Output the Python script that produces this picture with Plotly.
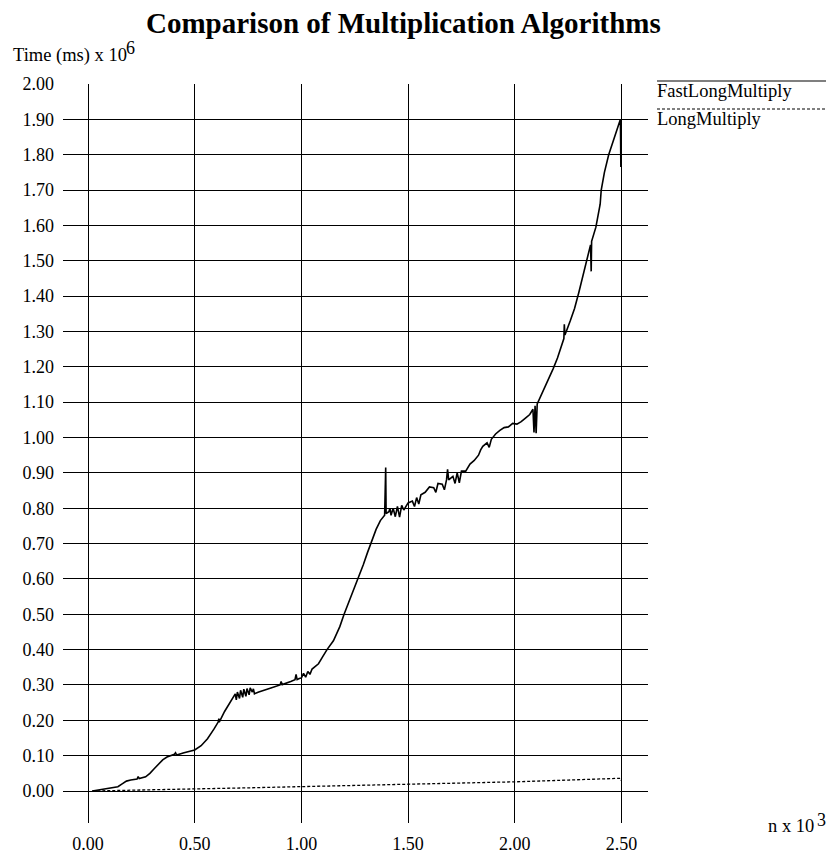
import plotly.graph_objects as go

# n x 10^3 on x, time (ms) x 10^6 on y
fast_x = [0.02, 0.05, 0.08, 0.11, 0.14, 0.16, 0.18, 0.20, 0.23, 0.235, 0.24, 0.27, 0.29,
          0.31, 0.33, 0.35, 0.37, 0.39, 0.405, 0.41, 0.415, 0.45, 0.50, 0.53, 0.56, 0.59,
          0.61, 0.613, 0.615, 0.64, 0.665, 0.68, 0.69, 0.695, 0.70, 0.71, 0.715, 0.725,
          0.73, 0.74, 0.745, 0.755, 0.76, 0.77, 0.775, 0.78, 0.80, 0.85, 0.90, 0.905,
          0.91, 0.95, 0.97, 0.975, 0.98, 0.99, 1.00, 1.01, 1.02, 1.03, 1.04, 1.05, 1.08,
          1.10, 1.12, 1.15, 1.18, 1.20, 1.23, 1.26, 1.29, 1.31, 1.33, 1.35, 1.37, 1.39,
          1.395, 1.397, 1.41, 1.415, 1.42, 1.43, 1.44, 1.45, 1.46, 1.47, 1.48, 1.50,
          1.52, 1.53, 1.54, 1.55, 1.56, 1.58, 1.60, 1.62, 1.63, 1.64, 1.66, 1.67, 1.68,
          1.685, 1.69, 1.71, 1.72, 1.73, 1.74, 1.75, 1.77, 1.79, 1.81, 1.83, 1.84, 1.85,
          1.87, 1.88, 1.89, 1.91, 1.93, 1.95, 1.97, 1.99, 2.01, 2.03, 2.05, 2.07, 2.085,
          2.09, 2.095, 2.10, 2.105, 2.12, 2.15, 2.18, 2.20, 2.23, 2.232, 2.235, 2.26,
          2.28, 2.30, 2.32, 2.34, 2.355, 2.358, 2.36, 2.38, 2.40, 2.405, 2.42, 2.44,
          2.46, 2.48, 2.495, 2.497]
fast_y = [0.000, 0.003, 0.008, 0.010, 0.012, 0.020, 0.028, 0.031, 0.034, 0.041, 0.035, 0.040, 0.050,
          0.063, 0.076, 0.088, 0.096, 0.100, 0.104, 0.108, 0.102, 0.108, 0.116, 0.128, 0.148, 0.175,
          0.195, 0.205, 0.195, 0.225, 0.250, 0.262, 0.275, 0.258, 0.280, 0.262, 0.285, 0.265,
          0.288, 0.268, 0.290, 0.272, 0.292, 0.280, 0.289, 0.275, 0.280, 0.290, 0.300, 0.310,
          0.301, 0.310, 0.315, 0.330, 0.315, 0.318, 0.320, 0.333, 0.322, 0.338, 0.330, 0.345, 0.360,
          0.380, 0.400, 0.425, 0.465, 0.500, 0.545, 0.590, 0.640, 0.675, 0.710, 0.740, 0.765, 0.780,
          0.915, 0.785, 0.790, 0.800, 0.780, 0.800, 0.776, 0.805, 0.775, 0.808, 0.795, 0.815,
          0.820, 0.805, 0.830, 0.812, 0.838, 0.845, 0.860, 0.858, 0.845, 0.870, 0.868, 0.852, 0.880,
          0.910, 0.880, 0.890, 0.870, 0.900, 0.872, 0.905, 0.905, 0.925, 0.935, 0.950, 0.965, 0.975,
          0.985, 0.972, 0.995, 1.010, 1.020, 1.028, 1.030, 1.040, 1.038, 1.045, 1.055, 1.065, 1.080,
          1.014, 1.090, 1.012, 1.095, 1.115, 1.150, 1.195, 1.225, 1.280, 1.320, 1.290, 1.330,
          1.365, 1.410, 1.460, 1.505, 1.545, 1.470, 1.555, 1.595, 1.660, 1.700, 1.750, 1.800,
          1.835, 1.870, 1.900, 1.765]

slow_x = [0.02, 0.25, 0.50, 0.75, 1.00, 1.25, 1.50, 1.75, 2.00, 2.25, 2.495, 2.497]
slow_y = [0.000, 0.002, 0.006, 0.009, 0.012, 0.015, 0.019, 0.022, 0.026, 0.031, 0.036, 0.030]

x_ticks = [0.0, 0.5, 1.0, 1.5, 2.0, 2.5]
y_ticks = [i / 10 for i in range(21)]

W, H = 827, 857
L, R, T, B = 63, 648, 84, 823  # plot box in page pixels


def px(x):
    return (x - L) / (R - L)


def py(y):
    return (B - y) / (B - T)


font = "Liberation Serif"

fig = go.Figure()
fig.add_trace(go.Scatter(x=fast_x, y=fast_y, mode="lines", name="FastLongMultiply",
                         line=dict(color="black", width=1.6)))
fig.add_trace(go.Scatter(x=slow_x, y=slow_y, mode="lines", name="LongMultiply",
                         line=dict(color="black", width=1.3, dash="3px,2px")))

fig.update_xaxes(range=[-0.1172, 2.6242], tickvals=x_ticks, tickformat=".2f",
                 showgrid=True, gridcolor="black", gridwidth=1, zeroline=False,
                 showline=False, ticks="", ticklabelstandoff=8, automargin=False,
                 tickfont=dict(family=font, size=18, color="black"))
fig.update_yaxes(range=[-0.0905, 2.0], tickvals=y_ticks, tickformat=".2f",
                 showgrid=True, gridcolor="black", gridwidth=1, zeroline=False,
                 showline=False, ticks="", ticklabelstandoff=8, automargin=False,
                 tickfont=dict(family=font, size=18, color="black"))

ann = [
    dict(text="<b>Comparison of Multiplication Algorithms</b>", x=px(403), y=py(23),
         xanchor="center", yanchor="middle", font=dict(size=29)),
    dict(text="Time (ms) x 10", x=px(11), y=py(55),
         xanchor="left", yanchor="middle", font=dict(size=18.5)),
    dict(text="6", x=px(124), y=py(48),
         xanchor="left", yanchor="middle", font=dict(size=18)),
    dict(text="n x 10", x=px(766), y=py(826),
         xanchor="left", yanchor="middle", font=dict(size=18.5)),
    dict(text="3", x=px(815), y=py(820),
         xanchor="left", yanchor="middle", font=dict(size=18)),
    dict(text="FastLongMultiply", x=px(655), y=py(91),
         xanchor="left", yanchor="middle", font=dict(size=18.5)),
    dict(text="LongMultiply", x=px(655), y=py(119),
         xanchor="left", yanchor="middle", font=dict(size=18.5)),
]
for a in ann:
    a.update(xref="paper", yref="paper", showarrow=False)
    a["font"].update(family=font, color="black")

fig.update_layout(
    width=W, height=H,
    margin=dict(l=L, r=W - R, t=T, b=H - B),
    plot_bgcolor="white", paper_bgcolor="white",
    showlegend=False,
    annotations=ann,
    shapes=[
        dict(type="line", xref="paper", yref="paper", x0=px(657), x1=px(826),
             y0=py(81), y1=py(81), line=dict(color="black", width=1.2)),
        dict(type="line", xref="paper", yref="paper", x0=px(657), x1=px(826),
             y0=py(109), y1=py(109), line=dict(color="black", width=1.2, dash="3px,2px")),
    ],
)

# drop the default 8px page margin so the figure fills the window exactly
fig.write_html("out.html", config={"displayModeBar": False},
               post_script="document.body.style.margin='0';"
               "document.documentElement.style.overflow='hidden';")
